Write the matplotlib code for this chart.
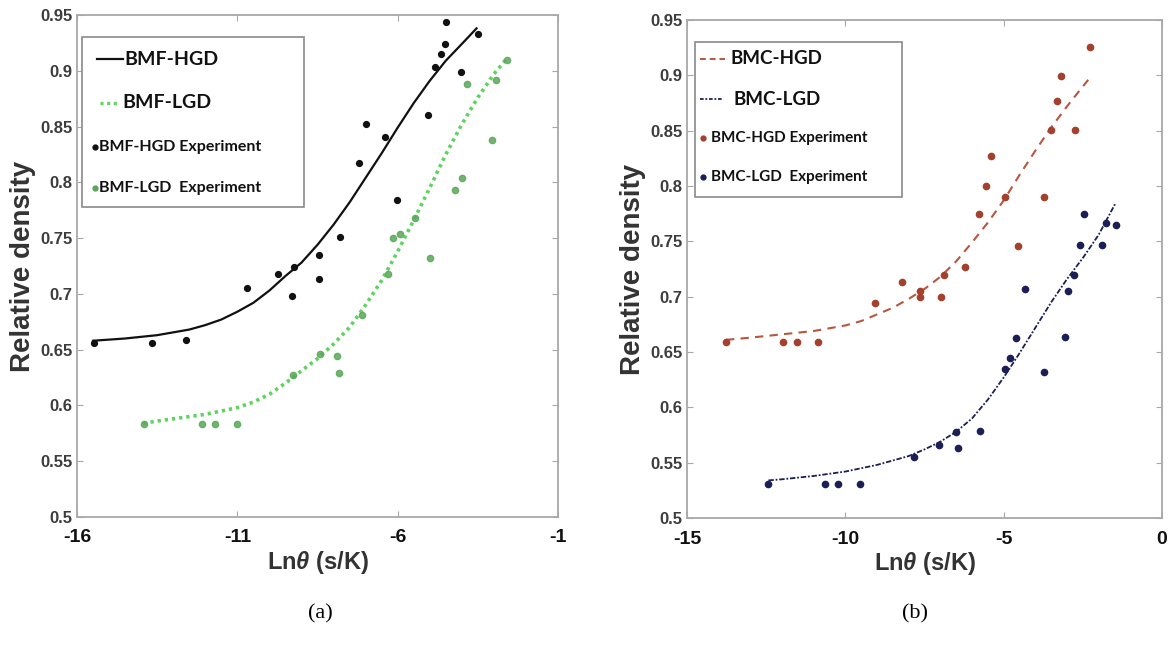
import matplotlib.pyplot as plt
from matplotlib.patches import Rectangle

plt.rcParams['font.family'] = ['Liberation Sans', 'DejaVu Sans']
plt.rcParams['mathtext.fontset'] = 'custom'
plt.rcParams['mathtext.it'] = 'Liberation Sans:italic:bold'
plt.rcParams['mathtext.rm'] = 'Liberation Sans:bold'

# (a) BMF model curves
bmf_hgd_fit_x = [-15.5, -14.5, -13.5, -12.5, -12.0, -11.5, -11.0, -10.5, -10.0, -9.5, -9.0, -8.5,
                 -8.0, -7.5, -7.0, -6.5, -6.0, -5.5, -5.0, -4.5, -4.0, -3.54]
bmf_hgd_fit_y = [0.658, 0.660, 0.663, 0.668, 0.672, 0.677, 0.684, 0.692, 0.703, 0.716, 0.728, 0.744,
                 0.762, 0.782, 0.804, 0.826, 0.849, 0.871, 0.891, 0.909, 0.924, 0.938]
bmf_lgd_fit_x = [-13.93, -13.5, -13.0, -12.5, -12.0, -11.5, -11.0, -10.5, -10.0, -9.5, -9.0, -8.5,
                 -8.0, -7.5, -7.0, -6.5, -6.0, -5.5, -5.0, -4.5, -4.0, -3.5, -3.0, -2.6]
bmf_lgd_fit_y = [0.584, 0.586, 0.588, 0.590, 0.592, 0.595, 0.598, 0.603, 0.610, 0.620, 0.631, 0.642,
                 0.655, 0.670, 0.690, 0.712, 0.738, 0.766, 0.795, 0.825, 0.852, 0.876, 0.897, 0.911]

# (a) BMF measurements
bmf_hgd_exp_x = [-15.47, -13.67, -12.6, -10.7, -9.74, -9.23, -9.3, -8.44, -8.44, -7.79, -7.22, -7.0,
                 -6.4, -6.01, -5.05, -4.85, -4.66, -4.52, -4.5, -4.03, -3.51]
bmf_hgd_exp_y = [0.656, 0.656, 0.659, 0.705, 0.718, 0.724, 0.698, 0.735, 0.713, 0.751, 0.817, 0.852,
                 0.841, 0.784, 0.860, 0.903, 0.915, 0.924, 0.944, 0.899, 0.933]
bmf_lgd_exp_x = [-13.91, -12.11, -11.7, -11.0, -9.25, -8.42, -7.9, -7.82, -7.12, -6.29, -6.14, -5.93,
                 -5.46, -4.99, -4.21, -4.0, -3.83, -3.07, -2.93, -2.6]
bmf_lgd_exp_y = [0.583, 0.583, 0.583, 0.583, 0.627, 0.646, 0.644, 0.629, 0.681, 0.718, 0.750, 0.754,
                 0.768, 0.732, 0.793, 0.804, 0.888, 0.838, 0.892, 0.910]

# (b) BMC model curves
bmc_hgd_fit_x = [-13.77, -13.0, -12.0, -11.0, -10.0, -9.5, -9.0, -8.5, -8.0, -7.5, -7.0, -6.5,
                 -6.0, -5.5, -5.0, -4.5, -4.0, -3.5, -3.0, -2.5, -2.33]
bmc_hgd_fit_y = [0.661, 0.663, 0.666, 0.669, 0.674, 0.678, 0.684, 0.690, 0.698, 0.707, 0.718, 0.732,
                 0.749, 0.767, 0.787, 0.810, 0.832, 0.853, 0.872, 0.890, 0.896]
bmc_lgd_fit_x = [-12.43, -12.0, -11.0, -10.0, -9.0, -8.0, -7.5, -7.0, -6.5, -6.0, -5.5, -5.0,
                 -4.5, -4.0, -3.5, -3.0, -2.5, -2.0, -1.46]
bmc_lgd_fit_y = [0.534, 0.535, 0.538, 0.542, 0.548, 0.556, 0.562, 0.569, 0.578, 0.590, 0.607, 0.627,
                 0.649, 0.672, 0.695, 0.716, 0.735, 0.756, 0.785]

# (b) BMC measurements
bmc_hgd_exp_x = [-13.77, -11.98, -11.54, -10.87, -9.06, -8.2, -7.64, -7.64, -6.99, -6.88, -6.22,
                 -5.79, -5.55, -5.4, -4.97, -4.54, -3.72, -3.51, -3.33, -3.19, -2.76, -2.27]
bmc_hgd_exp_y = [0.659, 0.659, 0.659, 0.659, 0.694, 0.713, 0.705, 0.700, 0.700, 0.720, 0.727,
                 0.775, 0.800, 0.827, 0.790, 0.746, 0.790, 0.851, 0.877, 0.899, 0.851, 0.926]
bmc_lgd_exp_x = [-12.43, -10.64, -10.24, -9.54, -7.84, -7.03, -6.52, -6.43, -5.75, -4.96, -4.81,
                 -4.62, -4.32, -3.73, -3.07, -2.96, -2.78, -2.6, -2.47, -1.9, -1.77, -1.44]
bmc_lgd_exp_y = [0.531, 0.531, 0.531, 0.531, 0.555, 0.566, 0.578, 0.563, 0.579, 0.635, 0.645,
                 0.663, 0.707, 0.632, 0.664, 0.705, 0.720, 0.747, 0.775, 0.747, 0.767, 0.765]

y_ticks = [0.5, 0.55, 0.6, 0.65, 0.7, 0.75, 0.8, 0.85, 0.9, 0.95]
y_labels = ['0.5', '0.55', '0.6', '0.65', '0.7', '0.75', '0.8', '0.85', '0.9', '0.95']

GRID = '#a8a8a8'
GREEN_LINE = '#5fd35f'
GREEN_PT = '#5aa75a'
RED_LINE = '#b8563f'
RED_PT = '#a3402e'
BLUE = '#1b1f55'


def style_axes(ax, xticks, xlim):
    ax.set_xlim(xlim)
    ax.set_ylim(0.5, 0.95)
    ax.set_xticks(xticks)
    ax.set_xticklabels([str(t) for t in xticks])
    ax.set_yticks(y_ticks)
    ax.set_yticklabels(y_labels)
    for s in ax.spines.values():
        s.set_color(GRID)
        s.set_linewidth(1.3)
    ax.tick_params(direction='in', length=4, color=GRID, top=True, right=True)
    ax.tick_params(axis='y', labelsize=12, labelcolor='#3c3c3c', pad=3)
    ax.tick_params(axis='x', labelsize=14, labelcolor='#111111', pad=9)
    for lab in ax.get_xticklabels() + ax.get_yticklabels():
        lab.set_fontweight('bold')
    ax.set_xlabel(r'Ln$\theta$ (s/K)', fontsize=17, fontweight='bold', color='#333333', labelpad=2)
    ax.set_ylabel('Relative density', fontsize=20, fontweight='bold', color='#333333', labelpad=3)


def draw_legend(ax, box, rows):
    x0, y0, x1, y1 = box
    ax.add_patch(Rectangle((x0, y0), x1 - x0, y1 - y0, transform=ax.transAxes,
                           facecolor='white', edgecolor='#8a8a8a', lw=1.2, zorder=5))
    for y, handle, hx, tx, label, size in rows:
        if handle.get('marker'):
            ax.plot([hx[0]], [y], transform=ax.transAxes, linestyle='none', zorder=6,
                    clip_on=False, **handle)
        else:
            ax.plot(hx, [y, y], transform=ax.transAxes, zorder=6, clip_on=False, **handle)
        ax.text(tx, y, label, transform=ax.transAxes, fontsize=size, fontweight='bold',
                family=['Lato', 'DejaVu Sans'], color='#111111', va='center', ha='left', zorder=6)


fig = plt.figure(figsize=(11.72, 6.46), dpi=100)

# ---- (a) BMF ----
ax1 = fig.add_axes([0.0657, 0.1997, 0.4104, 0.7771])
ax1.plot(bmf_hgd_fit_x, bmf_hgd_fit_y, color='#111111', lw=1.6, zorder=3)
ax1.plot(bmf_lgd_fit_x, bmf_lgd_fit_y, color=GREEN_LINE, lw=2.6, linestyle=(0, (0.9, 1.1)), zorder=3)
ax1.plot(bmf_hgd_exp_x, bmf_hgd_exp_y, 'o', color='#111111', ms=4.2, zorder=4)
ax1.plot(bmf_lgd_exp_x, bmf_lgd_exp_y, 'o', color=GREEN_PT, ms=4.5, alpha=0.85, zorder=4)
style_axes(ax1, [-16, -11, -6, -1], (-16, -1))
draw_legend(ax1, (0.0104, 0.618, 0.472, 0.956), [
    (0.912, dict(color='#111111', lw=1.6), (0.042, 0.096), 0.098, 'BMF-HGD', 14),
    (0.825, dict(color=GREEN_LINE, lw=2.4, linestyle=(0, (0.9, 1.1))), (0.048, 0.086), 0.094, 'BMF-LGD', 14),
    (0.737, dict(marker='o', color='#111111', ms=3.5), (0.037, 0), 0.046, 'BMF-HGD Experiment', 11.5),
    (0.655, dict(marker='o', color=GREEN_PT, ms=3.5), (0.037, 0), 0.046, 'BMF-LGD  Experiment', 11.5),
])

# ---- (b) BMC ----
ax2 = fig.add_axes([0.5862, 0.1981, 0.4053, 0.7709])
ax2.plot(bmc_hgd_fit_x, bmc_hgd_fit_y, color=RED_LINE, lw=1.5, linestyle=(0, (4, 3)), zorder=3)
ax2.plot(bmc_lgd_fit_x, bmc_lgd_fit_y, color=BLUE, lw=1.3, linestyle=(0, (3, 1, 1, 1)), zorder=3)
ax2.plot(bmc_hgd_exp_x, bmc_hgd_exp_y, 'o', color=RED_PT, ms=4.5, zorder=4)
ax2.plot(bmc_lgd_exp_x, bmc_lgd_exp_y, 'o', color=BLUE, ms=4.5, zorder=4)
style_axes(ax2, [-15, -10, -5, 0], (-15, 0))
draw_legend(ax2, (0.017, 0.645, 0.453, 0.956), [
    (0.922, dict(color=RED_LINE, lw=1.4, linestyle=(0, (3, 2))), (0.027, 0.080), 0.092, 'BMC-HGD', 13.5),
    (0.841, dict(color=BLUE, lw=1.3, linestyle=(0, (2, 1, 1, 1))), (0.027, 0.076), 0.097, 'BMC-LGD', 13.5),
    (0.763, dict(marker='o', color=RED_PT, ms=3.5), (0.034, 0), 0.051, 'BMC-HGD Experiment', 11),
    (0.685, dict(marker='o', color=BLUE, ms=3.5), (0.034, 0), 0.051, 'BMC-LGD  Experiment', 11),
])

fig.text(0.273, 0.05, '(a)', fontsize=16, family=['Liberation Serif', 'DejaVu Serif'], ha='center', va='center')
fig.text(0.781, 0.05, '(b)', fontsize=16, family=['Liberation Serif', 'DejaVu Serif'], ha='center', va='center')

fig.savefig('out.png', dpi=100, facecolor='white')
